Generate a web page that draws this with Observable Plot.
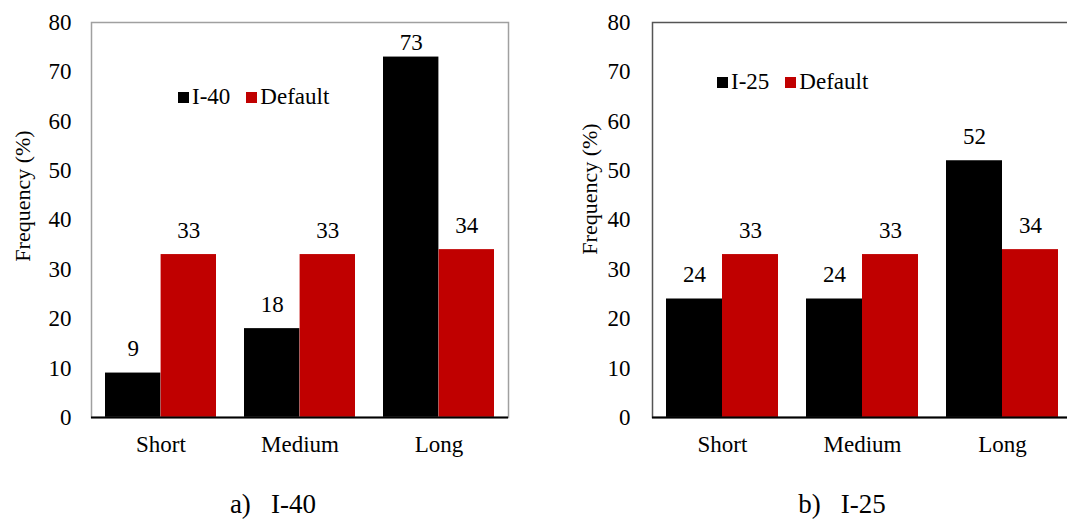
<!DOCTYPE html>
<html>
<head>
<meta charset="utf-8">
<script src="https://cdn.jsdelivr.net/npm/d3@7"></script>
<script src="https://cdn.jsdelivr.net/npm/@observablehq/plot@0.6"></script>
<style>
  html, body { margin: 0; padding: 0; background: #fff; overflow: hidden; }
  #wrap { position: relative; width: 1067px; height: 521px; overflow: hidden; font-family: "Liberation Serif", "Times New Roman", serif; color: #000; }
  .panel { position: absolute; top: 0; }
  .panel, .panel text { font-family: "Liberation Serif", "Times New Roman", serif !important; }
  .legend { position: absolute; display: flex; align-items: center; font-size: 23px; white-space: nowrap; }
  .sw { display: inline-block; width: 11px; height: 11px; margin-right: 3px; }
  .caption { position: absolute; font-size: 27px; white-space: pre; transform: translateX(-50%); }
</style>
</head>
<body>
<div id="wrap"></div>
<script>
const categories = ["Short", "Medium", "Long"];
const seriesNames = ["I-40", "I-25", "Default"];
const i40 = [9, 18, 73];
const i25 = [24, 24, 52];
const defaultVals = [33, 33, 34];
const yTicks = [0, 10, 20, 30, 40, 50, 60, 70, 80];
const colors = { site: "#000000", def: "#c00000" };

const wrap = document.getElementById("wrap");

function panel({left, width, marginLeft, marginRight, siteVals, frameColor, tickPad, labelDx, labelDy}) {
  const marginTop = 22, marginBottom = 53, height = 470;
  const pi = 0.2, po = 0.1;
  const plotW = width - marginLeft - marginRight;
  const bw = plotW / (categories.length - pi + 2 * po) * (1 - pi);
  const half = bw / 2;
  const siteData = categories.map((c, i) => ({cat: c, v: siteVals[i]}));
  const defData = categories.map((c, i) => ({cat: c, v: defaultVals[i]}));
  // label baseline sits a little above the bar, kept inside the plot area near the top
  const labelY = d => Math.min(d.v + 3.4, 74.5);
  const chart = Plot.plot({
    width, height, marginLeft, marginRight, marginTop, marginBottom,
    style: {fontFamily: "'Liberation Serif', 'Times New Roman', serif", fontSize: "23px", color: "#000", background: "transparent", overflow: "visible"},
    x: {domain: categories, paddingInner: pi, paddingOuter: po, label: null},
    y: {domain: [0, 80], label: null},
    marks: [
      Plot.barY(siteData, {x: "cat", y: "v", fill: colors.site, insetRight: half}),
      Plot.barY(defData, {x: "cat", y: "v", fill: colors.def, insetLeft: half}),
      Plot.text(siteData, {x: "cat", y: labelY, text: d => String(d.v), dx: -half / 2, lineAnchor: "bottom", fontSize: 23}),
      Plot.text(defData, {x: "cat", y: labelY, text: d => String(d.v), dx: half / 2, lineAnchor: "bottom", fontSize: 23}),
      Plot.frame({stroke: frameColor, strokeWidth: 1.5}),
      Plot.ruleY([0], {stroke: "#000", strokeWidth: 2}),
      Plot.axisY({ticks: yTicks, tickSize: 0, tickPadding: tickPad, label: null, fontSize: 23}),
      Plot.axisX({tickSize: 0, tickPadding: 18, label: null, fontSize: 23}),
      Plot.text(["Frequency (%)"], {frameAnchor: "left", textAnchor: "middle", rotate: -90, dx: labelDx, dy: labelDy, fontSize: 22})
    ]
  });
  chart.classList.add("panel");
  chart.style.left = left + "px";
  wrap.appendChild(chart);
}

panel({left: 0, width: 540, marginLeft: 91, marginRight: 32, siteVals: i40, frameColor: "#a0a0a0", tickPad: 20, labelDx: -69, labelDy: -24});
panel({left: 560, width: 540, marginLeft: 92, marginRight: 28, siteVals: i25, frameColor: "#555555", tickPad: 22, labelDx: -63, labelDy: -31});

function legend(x, yCenter, name) {
  const d = document.createElement("div");
  d.className = "legend";
  d.style.left = x + "px";
  d.style.top = (yCenter - 13) + "px";
  d.innerHTML = `<span class="sw" style="background:${colors.site}"></span><span>${name}</span>` +
    `<span class="sw" style="background:${colors.def};margin-left:16px"></span><span>${seriesNames[2]}</span>`;
  wrap.appendChild(d);
}
legend(178, 97, seriesNames[0]);
legend(717, 82, seriesNames[1]);

function caption(cx, text) {
  const d = document.createElement("div");
  d.className = "caption";
  d.style.left = cx + "px";
  d.style.top = "489px";
  d.textContent = text;
  wrap.appendChild(d);
}
caption(273, "a)   " + seriesNames[0]);
caption(842, "b)   " + seriesNames[1]);
</script>
</body>
</html>
